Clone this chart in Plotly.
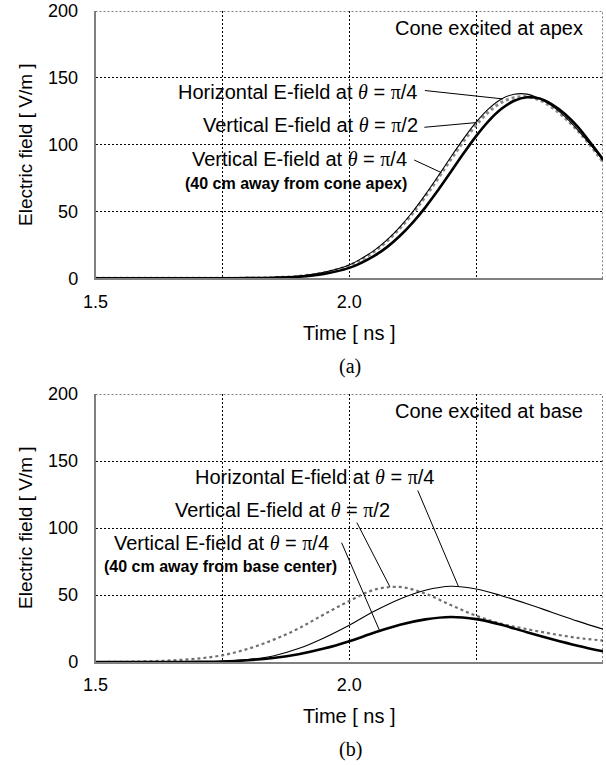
import plotly.graph_objects as go

W, H = 606, 765

# ---- data: time axis samples [ns] and field strengths [V/m] ----
t_apex = [1.50, 1.60, 1.70, 1.75, 1.80, 1.85, 1.90, 1.95, 2.00, 2.025, 2.05, 2.075,
          2.10, 2.125, 2.15, 2.175, 2.20, 2.225, 2.25, 2.275, 2.30, 2.325, 2.35,
          2.375, 2.40, 2.425, 2.45, 2.475, 2.50]
apex_horiz_pi4 = [0, 0, 0, 0.05, 0.2, 0.6, 1.7, 4.5, 10.0, 15.0, 21.1, 28.9,
                  38.5, 49.8, 62.6, 76.4, 90.6, 104.3, 116.8, 127.0, 134.2, 137.7, 137.8,
                  134.4, 128.8, 120.9, 111.1, 100.1, 88.3]
apex_vert_pi2 = [0, 0, 0, 0.05, 0.15, 0.5, 1.5, 4.1, 9.5, 14.2, 20.3, 28.0,
                 37.5, 48.6, 61.2, 74.8, 88.8, 102.4, 114.6, 124.6, 131.6, 135.2, 135.9,
                 133.3, 127.8, 120.0, 110.5, 99.5, 87.0]
apex_vert_pi4 = [0, 0, 0, 0, 0.1, 0.4, 1.2, 3.3, 7.8, 11.8, 16.9, 23.5,
                 31.8, 41.7, 53.1, 65.9, 79.5, 93.3, 106.4, 117.8, 126.8, 132.8, 135.5,
                 134.5, 130.0, 123.0, 113.5, 101.5, 89.0]

t_base = [1.50, 1.55, 1.60, 1.65, 1.70, 1.75, 1.80, 1.85, 1.90, 1.95, 2.00,
          2.05, 2.10, 2.15, 2.20, 2.25, 2.30, 2.35, 2.40, 2.45, 2.50]
base_horiz_pi4 = [0, 0, 0, 0, 0.2, 0.6, 1.8, 4.5, 10.0, 18.0, 27.5,
                  38.0, 47.0, 53.5, 56.5, 54.5, 49.5, 43.5, 37.0, 30.5, 24.5]
base_vert_pi2 = [0, 0.1, 0.5, 1.2, 2.5, 5.0, 9.8, 16.5, 25.0, 35.5, 45.5,
                 54.0, 56.0, 51.0, 42.5, 34.5, 28.5, 24.5, 21.0, 18.0, 16.0]
base_vert_pi4 = [0, 0, 0, 0, 0.1, 0.4, 1.3, 3.0, 5.8, 10.0, 15.5,
                 22.0, 27.8, 31.8, 33.6, 32.0, 27.8, 22.2, 17.0, 12.2, 8.0]

x_tickvals = [1.5, 1.75, 2.0, 2.25, 2.5]
x_ticktext = ["1.5", "", "2.0", "", ""]
y_tickvals = [0, 50, 100, 150, 200]

SANS = "Arial, Liberation Sans, sans-serif"
SERIF = "Times New Roman, Liberation Serif, serif"
THETA = '<span style="font-family:Liberation Serif"><i>θ</i></span>'
PI = '<span style="font-family:Liberation Serif">π</span>'
GRID_DASH = "2px,2px"

fig = go.Figure()


def add_panel(xa, ya, t, horiz, vpi2, vpi4, dot_width, dot_color):
    common = dict(mode="lines", line_shape="spline", hoverinfo="skip",
                  showlegend=False, xaxis=xa, yaxis=ya, x=t)
    fig.add_trace(go.Scatter(y=vpi2, line=dict(color=dot_color, width=dot_width, dash="dot"), **common))
    fig.add_trace(go.Scatter(y=horiz, line=dict(color="black", width=1.1), **common))
    fig.add_trace(go.Scatter(y=vpi4, line=dict(color="black", width=2.6), **common))


add_panel("x", "y", t_apex, apex_horiz_pi4, apex_vert_pi2, apex_vert_pi4, 3, "#8a8a8a")
add_panel("x2", "y2", t_base, base_horiz_pi4, base_vert_pi2, base_vert_pi4, 2.2, "#707070")

xdom = [95.5 / W, 603 / W]
ydom_top = [1 - 278.3 / H, 1 - 11 / H]
ydom_bot = [1 - 662 / H, 1 - 394 / H]

xaxis_style = dict(range=[1.5, 2.5], tickvals=x_tickvals, ticktext=x_ticktext,
                   showgrid=True, gridcolor="black", griddash=GRID_DASH, gridwidth=1,
                   zeroline=False, showline=True, linecolor="#808080", linewidth=1.5,
                   ticks="", ticklabelstandoff=6, automargin=False,
                   tickfont=dict(family=SANS, size=18, color="black"), domain=xdom)
yaxis_style = dict(range=[0, 200], tickvals=y_tickvals,
                   showgrid=True, gridcolor="black", griddash=GRID_DASH, gridwidth=1,
                   zeroline=False, showline=True, linecolor="#808080", linewidth=1.5,
                   ticks="", ticklabelstandoff=12, automargin=False,
                   tickfont=dict(family=SANS, size=18, color="black"))

fig.update_layout(
    width=W, height=H, autosize=False,
    margin=dict(l=0, r=0, t=0, b=0, autoexpand=False),
    paper_bgcolor="white", plot_bgcolor="white",
    xaxis=dict(**xaxis_style, anchor="y"),
    yaxis=dict(**yaxis_style, domain=ydom_top, anchor="x"),
    xaxis2=dict(**xaxis_style, anchor="y2"),
    yaxis2=dict(**yaxis_style, domain=ydom_bot, anchor="x2"),
)

# dotted top and right frame edges
for xr, yr in (("x", "y"), ("x2", "y2")):
    fig.add_shape(type="line", xref=xr, yref=yr, x0=1.5, x1=2.5, y0=200, y1=200,
                  line=dict(color="black", width=1, dash=GRID_DASH))
    fig.add_shape(type="line", xref=xr, yref=yr, x0=2.5, x1=2.5, y0=0, y1=200,
                  line=dict(color="black", width=1, dash=GRID_DASH))


# curve labels with leader lines
def label(xr, yr, x, y, text, size=20, bold=False):
    if bold:
        text = "<b>" + text + "</b>"
    fig.add_annotation(xref=xr, yref=yr, x=x, y=y, text=text, showarrow=False,
                       xanchor="right", yanchor="middle",
                       font=dict(family=SANS, size=size, color="black"))


def leader(xr, yr, x0, y0, x1, y1):
    fig.add_shape(type="line", xref=xr, yref=yr, x0=x0, y0=y0, x1=x1, y1=y1,
                  line=dict(color="black", width=1))


lbl_h = f"Horizontal E-field at {THETA} = {PI}/4"
lbl_v2 = f"Vertical E-field at {THETA} = {PI}/2"
lbl_v4 = f"Vertical E-field at {THETA} = {PI}/4"

# panel (a)
label("x", "y", 2.465, 187, "Cone excited at apex")
label("x", "y", 2.139, 139.5, lbl_h)
label("x", "y", 2.139, 115, lbl_v2)
label("x", "y", 2.118, 89, lbl_v4)
label("x", "y", 2.118, 71, "(40 cm away from cone apex)", size=16, bold=True)
leader("x", "y", 2.149, 140.5, 2.303, 134.2)
leader("x", "y", 2.148, 113.0, 2.25, 116.5)
leader("x", "y", 2.128, 88.5, 2.182, 79.0)

# panel (b)
label("x2", "y2", 2.465, 187, "Cone excited at base")
label("x2", "y2", 2.172, 138, lbl_h)
label("x2", "y2", 2.084, 113.5, lbl_v2)
label("x2", "y2", 1.964, 89, lbl_v4)
label("x2", "y2", 1.980, 71, "(40 cm away from base center)", size=16, bold=True)
leader("x2", "y2", 2.135, 128, 2.215, 56.5)
leader("x2", "y2", 2.015, 104, 2.080, 56.2)
leader("x2", "y2", 1.985, 89, 2.060, 23.2)


# axis titles and panel captions
def paper_text(xpx, ypx, text, family=SANS, size=19, angle=0):
    fig.add_annotation(xref="paper", yref="paper", x=xpx / W, y=1 - ypx / H,
                       text=text, showarrow=False, textangle=angle,
                       xanchor="center", yanchor="middle",
                       font=dict(family=family, size=size, color="black"))


paper_text(25, 145, "Electric field [ V/m ]", angle=-90)
paper_text(25, 528, "Electric field [ V/m ]", angle=-90)
paper_text(349, 333, "Time [ ns ]", size=20)
paper_text(349, 716, "Time [ ns ]", size=20)
paper_text(350, 366, "(a)", family=SERIF, size=20)
paper_text(350, 749, "(b)", family=SERIF, size=20)

fig.write_html("out.html")
